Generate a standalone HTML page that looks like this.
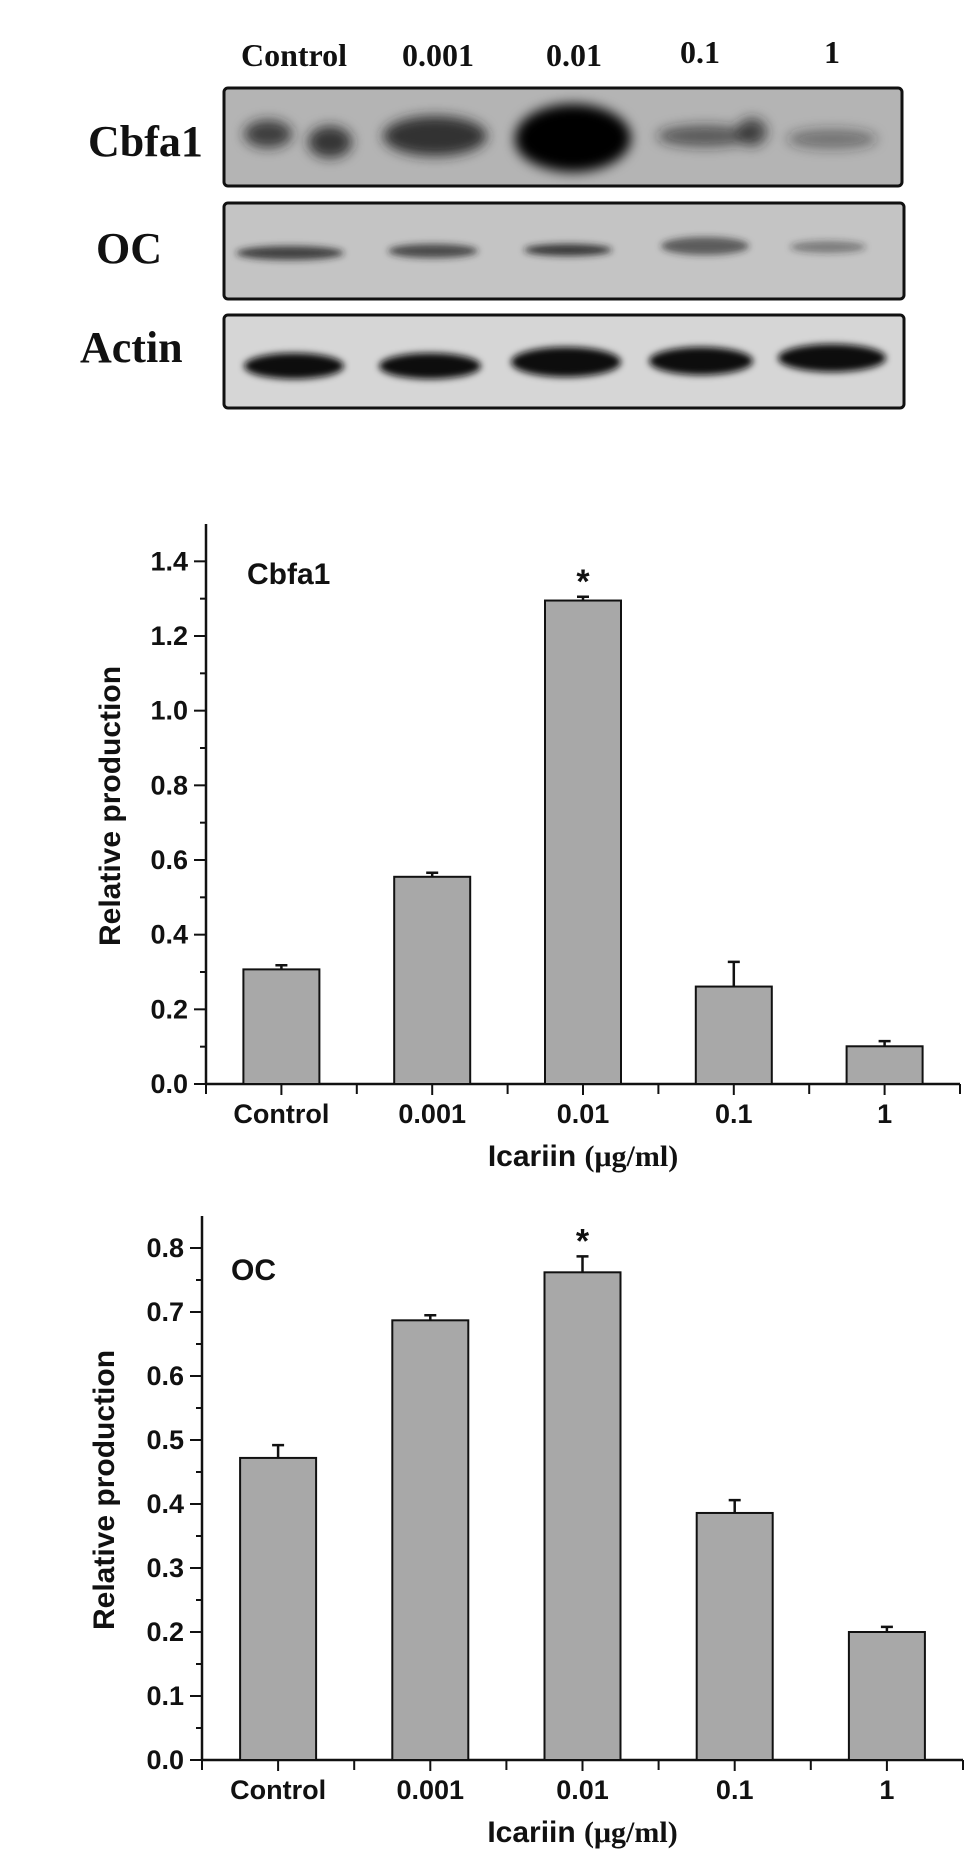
<!DOCTYPE html>
<html><head><meta charset="utf-8">
<style>
html,body{margin:0;padding:0;background:#fff;}
svg{display:block;}
.t{font-family:"Liberation Sans",Arial,sans-serif;font-weight:bold;fill:#111;}
.s{font-family:"Liberation Serif","Times New Roman",serif;font-weight:bold;fill:#111;}
</style></head>
<body>
<svg id="root" width="969" height="1856" viewBox="0 0 969 1856" xmlns="http://www.w3.org/2000/svg">
<defs>
<filter id="b6" x="-50%" y="-100%" width="200%" height="300%"><feGaussianBlur stdDeviation="6"/></filter>
<filter id="b3" x="-50%" y="-100%" width="200%" height="300%"><feGaussianBlur stdDeviation="3.5"/></filter>
</defs>
<g>
  <text class="s" x="294" y="66" font-size="32" text-anchor="middle">Control</text>
  <text class="s" x="438" y="66" font-size="32" text-anchor="middle">0.001</text>
  <text class="s" x="574" y="66" font-size="32" text-anchor="middle">0.01</text>
  <text class="s" x="700" y="63" font-size="32" text-anchor="middle">0.1</text>
  <text class="s" x="832" y="63" font-size="32" text-anchor="middle">1</text>

  <text class="s" x="88" y="156" font-size="44">Cbfa1</text>
  <text class="s" x="96" y="263" font-size="44">OC</text>
  <text class="s" x="80" y="362" font-size="44">Actin</text>

  <g>
    <rect x="224" y="88" width="678" height="98" rx="4" fill="#b4b4b4" stroke="#111" stroke-width="3"/>
    <g filter="url(#b6)" fill="#222">
      <ellipse cx="268" cy="134" rx="24" ry="14" opacity="0.8"/>
      <ellipse cx="330" cy="142" rx="22" ry="16" opacity="0.85"/>
      <ellipse cx="435" cy="136" rx="52" ry="20" opacity="0.9"/>
      <ellipse cx="573" cy="138" rx="58" ry="34" fill="#000"/>
      <ellipse cx="565" cy="140" rx="50" ry="30" fill="#000"/>
      <ellipse cx="705" cy="136" rx="48" ry="11" opacity="0.6"/>
      <ellipse cx="752" cy="132" rx="15" ry="14" opacity="0.75"/>
      <ellipse cx="832" cy="139" rx="45" ry="10" opacity="0.45"/>
    </g>
  </g>
  <g>
    <rect x="224" y="203" width="680" height="96" rx="4" fill="#c4c4c4" stroke="#111" stroke-width="3"/>
    <g filter="url(#b3)" fill="#222">
      <ellipse cx="290" cy="253" rx="54" ry="7" opacity="0.8"/>
      <ellipse cx="433" cy="251" rx="45" ry="7" opacity="0.75"/>
      <ellipse cx="568" cy="250" rx="44" ry="6" opacity="0.85"/>
      <ellipse cx="705" cy="246" rx="44" ry="9" opacity="0.65"/>
      <ellipse cx="828" cy="247" rx="38" ry="6" opacity="0.45"/>
    </g>
  </g>
  <g>
    <rect x="224" y="315" width="680" height="93" rx="4" fill="#d6d6d6" stroke="#111" stroke-width="3"/>
    <g filter="url(#b3)" fill="#111">
      <ellipse cx="294" cy="366" rx="50" ry="13"/>
      <ellipse cx="430" cy="366" rx="51" ry="13"/>
      <ellipse cx="566" cy="362" rx="55" ry="15"/>
      <ellipse cx="701" cy="361" rx="52" ry="14"/>
      <ellipse cx="832" cy="358" rx="54" ry="14"/>
    </g>
  </g>
</g>
<g id="c1"></g>
<g id="c2"></g>
</svg>
<script>
const categories = ["Control","0.001","0.01","0.1","1"];
const cbfa1Values = [0.307, 0.555, 1.295, 0.261, 0.101];
const cbfa1Errors = [0.011, 0.011, 0.010, 0.066, 0.014];
const cbfa1Ticks = ["0.0","0.2","0.4","0.6","0.8","1.0","1.2","1.4"];
const ocValues = [0.472, 0.687, 0.762, 0.386, 0.200];
const ocErrors = [0.020, 0.008, 0.025, 0.020, 0.008];
const ocTicks = ["0.0","0.1","0.2","0.3","0.4","0.5","0.6","0.7","0.8"];
const NS = "http://www.w3.org/2000/svg";
function mk(tag, attrs, parent){
  const e = document.createElementNS(NS, tag);
  for (const k in attrs) e.setAttribute(k, attrs[k]);
  parent.appendChild(e); return e;
}
function drawChart(g, cfg, values, errors, ticks, starIdx, label){
  const n = categories.length;
  const step = (cfg.x1 - cfg.x0) / n;
  const xPos = i => cfg.x0 + (i + 0.5) * step;
  const yPos = v => cfg.y0 - (v / cfg.ymax) * (cfg.y0 - cfg.yTop);
  const tickStep = parseFloat(ticks[1]) - parseFloat(ticks[0]);
  const ya = mk('line',{x1:cfg.x0,y1:cfg.yTop,x2:cfg.x0,y2:cfg.y0+1,stroke:'#111','stroke-width':2.5},g);
  
  
  const xa = mk('line',{x1:cfg.x0-1,y1:cfg.y0,x2:cfg.x1,y2:cfg.y0,stroke:'#111','stroke-width':2.5},g);
  
  
  ticks.forEach((t, i) => {
    const v = parseFloat(t);
    const y = yPos(v);
    mk('line',{x1:cfg.x0-12,y1:y,x2:cfg.x0,y2:y,stroke:'#111','stroke-width':2},g);
    const tx = mk('text',{x:cfg.x0-18,y:y+9,'font-size':27,'text-anchor':'end',class:'t'},g);
    tx.textContent = t;
    
    
    const mv = v + tickStep/2;
    if (mv < cfg.ymax) {
      const my = yPos(mv);
      mk('line',{x1:cfg.x0-6,y1:my,x2:cfg.x0,y2:my,stroke:'#111','stroke-width':2},g);
    }
  });
  for (let i = 0; i <= n; i++) {
    const x = cfg.x0 + i*step;
    mk('line',{x1:x,y1:cfg.y0,x2:x,y2:cfg.y0+10,stroke:'#111','stroke-width':2},g);
  }
  categories.forEach((c, i) => {
    const x = xPos(i);
    mk('line',{x1:x,y1:cfg.y0,x2:x,y2:cfg.y0+11,stroke:'#111','stroke-width':2},g);
    const tx = mk('text',{x:x,y:cfg.y0+39,'font-size':27,'text-anchor':'middle',class:'t'},g);
    tx.textContent = c;
    
    
    const bw = 76;
    const top = yPos(values[i]);
    const bar = mk('rect',{x:x-bw/2,y:top,width:bw,height:cfg.y0-top,fill:'#a8a8a8',stroke:'#111','stroke-width':2},g);
    
    
    const et = yPos(values[i] + errors[i]);
    const eb = mk('path',{d:`M${x},${top} V${et} M${x-6},${et} H${x+6}`,stroke:'#111','stroke-width':2.5,fill:'none'},g);
    
    
    if (i === starIdx) {
      const st = mk('text',{x:x,y:et-4,'font-size':34,'text-anchor':'middle',class:'t'},g);
      st.textContent = '*';
      
      
    }
  });
  const lb = mk('text',{x:cfg.labelX,y:cfg.labelY,'font-size':30,class:'t'},g);
  lb.textContent = label;
  
  
  const yt = mk('text',{x:0,y:0,'font-size':30,'text-anchor':'middle',class:'t',transform:`translate(${cfg.ytX},${cfg.ytY}) rotate(-90)`},g);
  yt.textContent = 'Relative production';
  
  
  const xt = mk('text',{x:(cfg.x0+cfg.x1)/2,y:cfg.y0+82,'font-size':30,'text-anchor':'middle',class:'t'},g);
  
  
  const s1 = mk('tspan',{},xt); s1.textContent = 'Icariin ';
  const s2 = mk('tspan',{class:'s','font-family':'"Liberation Serif", serif'},xt); s2.textContent = '(\u03bcg/ml)';
}
drawChart(document.getElementById('c1'),
  {x0:206,x1:960,y0:1084,yTop:524,ymax:1.5,labelX:247,labelY:584,ytX:120,ytY:806},
  cbfa1Values, cbfa1Errors, cbfa1Ticks, 2, 'Cbfa1');
drawChart(document.getElementById('c2'),
  {x0:202,x1:963,y0:1760,yTop:1216,ymax:0.85,labelX:231,labelY:1280,ytX:114,ytY:1490},
  ocValues, ocErrors, ocTicks, 2, 'OC');
</script>
</body></html>
